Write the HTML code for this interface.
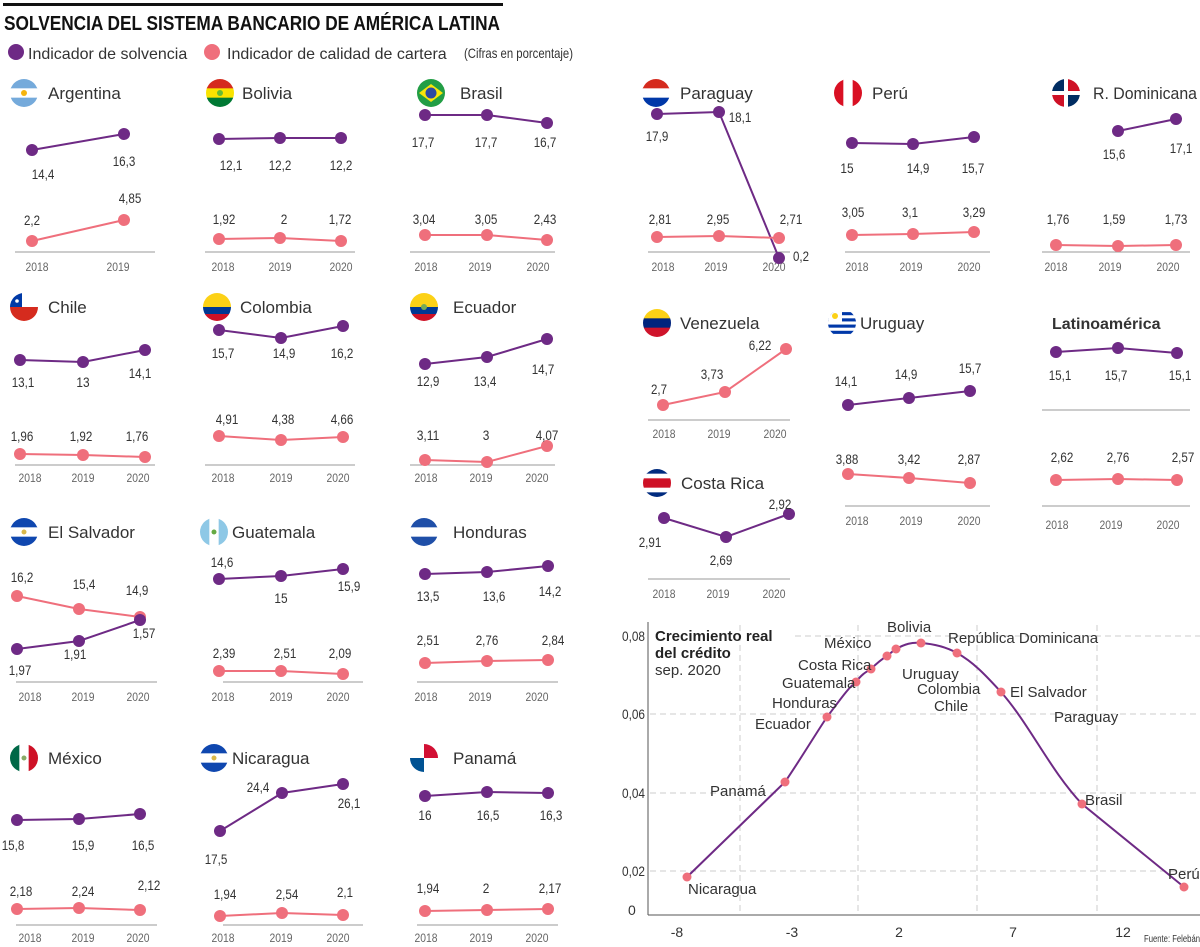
<!DOCTYPE html>
<html><head><meta charset="utf-8"><style>
html,body{margin:0;padding:0;background:#fff}
svg{display:block}
text{font-family:"Liberation Sans Narrow","Liberation Sans",sans-serif;fill:#333}
.v{font-size:14px;text-anchor:middle}
.yr{font-size:12px;text-anchor:middle;fill:#666}
.t{font-size:17px;font-family:"Liberation Sans",sans-serif}
.c{font-size:15px;font-family:"Liberation Sans",sans-serif;fill:#333}
</style></head><body>
<svg id="s" width="1200" height="947" viewBox="0 0 1200 947" xmlns="http://www.w3.org/2000/svg">
<rect x="3" y="3" width="500" height="3" fill="#111"/>
<text x="4" y="30" textLength="496" lengthAdjust="spacingAndGlyphs" style="font-family:'Liberation Sans',sans-serif;font-weight:bold;font-size:20px;fill:#111">SOLVENCIA DEL SISTEMA BANCARIO DE AMÉRICA LATINA</text>
<circle cx="16" cy="52" r="8" fill="#6e2a85"/>
<text x="28" y="59" style="font-family:'Liberation Sans',sans-serif;font-size:16px">Indicador de solvencia</text>
<circle cx="212" cy="52" r="8" fill="#ef6f7c"/>
<text x="227" y="59" style="font-family:'Liberation Sans',sans-serif;font-size:16px">Indicador de calidad de cartera</text>
<text x="464" y="58" textLength="109" lengthAdjust="spacingAndGlyphs" style="font-size:14px">(Cifras en porcentaje)</text>
<g id="g"></g>
</svg>
<script>
var P="#6e2a85",K="#ef6f7c",g=document.getElementById('g'),h='';
function ln(xs,ys,c){var s='<polyline points="'+xs.map(function(x,i){return x+','+ys[i]}).join(' ')+'" fill="none" stroke="'+c+'" stroke-width="2"/>';xs.forEach(function(x,i){s+='<circle cx="'+x+'" cy="'+ys[i]+'" r="6" fill="'+c+'"/>'});return s;}
function tl(t){var d=t.replace(/[^0-9]/g,'').length,c=t.length-d;return d*6.6+c*2.8;}
function lab(a){var s='';a.forEach(function(l){s+='<text class="v" x="'+l[1]+'" y="'+(l[2]+5)+'" textLength="'+tl(l[0])+'" lengthAdjust="spacingAndGlyphs">'+l[0]+'</text>'});return s;}
var id=0;
function flag(cx,cy,kind){id++;var r=14,x=cx-r,y=cy-r,w=28,s='<clipPath id="f'+id+'"><circle cx="'+cx+'" cy="'+cy+'" r="'+r+'"/></clipPath><g clip-path="url(#f'+id+')">';
function hs(cols,ws){var yy=y;ws=ws||cols.map(function(){return 1});var tot=ws.reduce(function(a,b){return a+b});cols.forEach(function(c,i){var hh=w*ws[i]/tot;s+='<rect x="'+x+'" y="'+yy+'" width="'+w+'" height="'+(hh+0.5)+'" fill="'+c+'"/>';yy+=hh;});}
function vs(cols){cols.forEach(function(c,i){s+='<rect x="'+(x+i*w/3)+'" y="'+y+'" width="'+(w/3+0.5)+'" height="'+w+'" fill="'+c+'"/>'});}
switch(kind){
case'ar':hs(['#75aadb','#fff','#75aadb']);s+='<circle cx="'+cx+'" cy="'+cy+'" r="3" fill="#f6b40e"/>';break;
case'bo':hs(['#d52b1e','#f9e300','#007934']);s+='<circle cx="'+cx+'" cy="'+cy+'" r="3" fill="#6b3"/>';break;
case'br':s+='<rect x="'+x+'" y="'+y+'" width="28" height="28" fill="#229e45"/><polygon points="'+(cx-12)+','+cy+' '+cx+','+(cy-9)+' '+(cx+12)+','+cy+' '+cx+','+(cy+9)+'" fill="#f8e509"/><circle cx="'+cx+'" cy="'+cy+'" r="5.5" fill="#2b49a3"/>';break;
case'py':hs(['#d52b1e','#fff','#0038a8']);break;
case'pe':vs(['#d91023','#fff','#d91023']);break;
case'do':s+='<rect x="'+x+'" y="'+y+'" width="28" height="28" fill="#fff"/><rect x="'+x+'" y="'+y+'" width="12" height="12" fill="#002d62"/><rect x="'+(cx+2)+'" y="'+(cy+2)+'" width="12" height="12" fill="#002d62"/><rect x="'+(cx+2)+'" y="'+y+'" width="12" height="12" fill="#ce1126"/><rect x="'+x+'" y="'+(cy+2)+'" width="12" height="12" fill="#ce1126"/>';break;
case'cl':hs(['#fff','#d52b1e']);s+='<rect x="'+x+'" y="'+y+'" width="12" height="14" fill="#0039a6"/><circle cx="'+(x+7)+'" cy="'+(y+8)+'" r="1.8" fill="#fff"/>';break;
case'co':case'ec':hs(['#fcd116','#003893','#ce1126'],[2,1,1]);if(kind=='ec')s+='<circle cx="'+cx+'" cy="'+cy+'" r="3" fill="#7a5"/>';break;
case've':hs(['#fcd116','#00247d','#cf142b']);break;
case'cr':hs(['#002b7f','#fff','#ce1126','#fff','#002b7f'],[1,1,2,1,1]);break;
case'uy':hs(['#fff','#0038a8','#fff','#0038a8','#fff','#0038a8','#fff','#0038a8','#fff']);s+='<rect x="'+x+'" y="'+y+'" width="14" height="14" fill="#fff"/><circle cx="'+(x+7)+'" cy="'+(y+7)+'" r="3" fill="#fcd116"/>';break;
case'sv':case'ni':hs(['#0f47af','#fff','#0f47af']);s+='<circle cx="'+cx+'" cy="'+cy+'" r="2.5" fill="#d9b84a"/>';break;
case'hn':hs(['#1f4fa8','#fff','#1f4fa8']);break;
case'gt':vs(['#8ec8e6','#fff','#8ec8e6']);s+='<circle cx="'+cx+'" cy="'+cy+'" r="2.5" fill="#6a4"/>';break;
case'mx':vs(['#006847','#fff','#ce1126']);s+='<circle cx="'+cx+'" cy="'+cy+'" r="2.5" fill="#8a6"/>';break;
case'pa':s+='<rect x="'+x+'" y="'+y+'" width="28" height="28" fill="#fff"/><rect x="'+cx+'" y="'+y+'" width="14" height="14" fill="#d21034"/><rect x="'+x+'" y="'+cy+'" width="14" height="14" fill="#005293"/>';break;}
return s+'</g>';}
function axis(x0,x1,y){return '<line x1="'+x0+'" x2="'+x1+'" y1="'+y+'" y2="'+y+'" stroke="#999" stroke-width="1"/>';}
function yrs(xs,y,list){var s='';xs.forEach(function(x,i){s+='<text class="yr" x="'+x+'" y="'+y+'" textLength="23" lengthAdjust="spacingAndGlyphs">'+list[i]+'</text>'});return s;}
function title(fx,fy,k,tx,name,len){return flag(fx,fy,k)+'<text class="t" x="'+tx+'" y="'+(fy+6)+'"'+(len?' textLength="'+len+'" lengthAdjust="spacingAndGlyphs"':'')+'>'+name+'</text>';}
var Y3=['2018','2019','2020'];
h+=title(24,93,'ar',48,'Argentina');
h+=axis(15,155,252)+yrs([37,118],271,['2018','2019']);
h+=ln([32,124],[150,134],P)+ln([32,124],[241,220],K);
h+=lab([['14,4',43,174],['16,3',124,161],['2,2',32,220],['4,85',130,198]]);
h+=title(220,93,'bo',242,'Bolivia');
h+=axis(205,355,252)+yrs([223,280,341],271,Y3);
h+=ln([219,280,341],[139,138,138],P)+ln([219,280,341],[239,238,241],K);
h+=lab([['12,1',231,165],['12,2',280,165],['12,2',341,165],['1,92',224,219],['2',284,219],['1,72',340,219]]);
h+=title(431,93,'br',460,'Brasil');
h+=axis(410,555,252)+yrs([426,480,538],271,Y3);
h+=ln([425,487,547],[115,115,123],P)+ln([425,487,547],[235,235,240],K);
h+=lab([['17,7',423,142],['17,7',486,142],['16,7',545,142],['3,04',424,219],['3,05',486,219],['2,43',545,219]]);
h+=title(656,93,'py',680,'Paraguay');
h+=axis(648,790,252)+yrs([663,716,774],271,Y3);
h+=ln([657,719,779],[114,112,258],P);
h+=ln([657,719,779],[237,236,238],K);
h+=lab([['17,9',657,136],['18,1',740,117],['0,2',801,256],['2,81',660,219],['2,95',718,219],['2,71',791,219]]);
h+=title(848,93,'pe',872,'Perú');
h+=axis(845,990,252)+yrs([857,911,969],271,Y3);
h+=ln([852,913,974],[143,144,137],P)+ln([852,913,974],[235,234,232],K);
h+=lab([['15',847,168],['14,9',918,168],['15,7',973,168],['3,05',853,212],['3,1',910,212],['3,29',974,212]]);
h+=title(1066,93,'do',1093,'R. Dominicana',104);
h+=axis(1042,1190,252)+yrs([1056,1110,1168],271,Y3);
h+=ln([1118,1176],[131,119],P)+ln([1056,1118,1176],[245,246,245],K);
h+=lab([['15,6',1114,154],['17,1',1181,148],['1,76',1058,219],['1,59',1114,219],['1,73',1176,219]]);
h+=title(24,307,'cl',48,'Chile');
h+=axis(15,155,465)+yrs([30,83,138],482,Y3);
h+=ln([20,83,145],[360,362,350],P)+ln([20,83,145],[454,455,457],K);
h+=lab([['13,1',23,382],['13',83,382],['14,1',140,373],['1,96',22,436],['1,92',81,436],['1,76',137,436]]);
h+=title(217,307,'co',240,'Colombia');
h+=axis(205,355,465)+yrs([223,281,338],482,Y3);
h+=ln([219,281,343],[330,338,326],P)+ln([219,281,343],[436,440,437],K);
h+=lab([['15,7',223,353],['14,9',284,353],['16,2',342,353],['4,91',227,419],['4,38',283,419],['4,66',342,419]]);
h+=title(424,307,'ec',453,'Ecuador');
h+=axis(410,555,465)+yrs([426,481,537],482,Y3);
h+=ln([425,487,547],[364,357,339],P)+ln([425,487,547],[460,462,446],K);
h+=lab([['12,9',428,381],['13,4',485,381],['14,7',543,369],['3,11',428,435],['3',486,435],['4,07',547,435]]);
h+=title(657,323,'ve',680,'Venezuela');
h+=axis(648,790,420)+yrs([664,719,775],438,Y3);
h+=ln([663,725,786],[405,392,349],K);
h+=lab([['2,7',659,389],['3,73',712,374],['6,22',760,345]]);
h+=title(657,483,'cr',681,'Costa Rica');
h+=axis(648,790,579)+yrs([664,718,774],598,Y3);
h+=ln([664,726,789],[518,537,514],P);
h+=lab([['2,91',650,542],['2,69',721,560],['2,92',780,504]]);
h+=title(842,323,'uy',860,'Uruguay');
h+=axis(845,990,506)+yrs([857,911,969],525,Y3);
h+=ln([848,909,970],[405,398,391],P)+ln([848,909,970],[474,478,483],K);
h+=lab([['14,1',846,381],['14,9',906,374],['15,7',970,368],['3,88',847,459],['3,42',909,459],['2,87',969,459]]);
h+='<text class="t" x="1052" y="329" style="font-weight:bold;font-size:16px">Latinoamérica</text>';
h+=axis(1042,1190,410)+axis(1042,1190,506)+yrs([1057,1111,1168],529,Y3);
h+=ln([1056,1118,1177],[352,348,353],P)+ln([1056,1118,1177],[480,479,480],K);
h+=lab([['15,1',1060,375],['15,7',1116,375],['15,1',1180,375],['2,62',1062,457],['2,76',1118,457],['2,57',1183,457]]);
h+=title(24,532,'sv',48,'El Salvador');
h+=axis(16,157,682)+yrs([30,83,138],701,Y3);
h+=ln([17,79,140],[596,609,617],K)+ln([17,79,140],[649,641,620],P);
h+=lab([['1,97',20,670],['1,91',75,654],['1,57',144,633],['16,2',22,577],['15,4',84,584],['14,9',137,590]]);
h+=title(214,532,'gt',232,'Guatemala');
h+=axis(223,363,682)+yrs([223,281,338],701,Y3);
h+=ln([219,281,343],[579,576,569],P)+ln([219,281,343],[671,671,674],K);
h+=lab([['14,6',222,562],['15',281,598],['15,9',349,586],['2,39',224,653],['2,51',285,653],['2,09',340,653]]);
h+=title(424,532,'hn',453,'Honduras');
h+=axis(417,558,682)+yrs([426,480,537],701,Y3);
h+=ln([425,487,548],[574,572,566],P)+ln([425,487,548],[663,661,660],K);
h+=lab([['13,5',428,596],['13,6',494,596],['14,2',550,591],['2,51',428,640],['2,76',487,640],['2,84',553,640]]);
h+=title(24,758,'mx',48,'México');
h+=axis(16,157,925)+yrs([30,83,138],942,Y3);
h+=ln([17,79,140],[820,819,814],P)+ln([17,79,140],[909,908,910],K);
h+=lab([['15,8',13,845],['15,9',83,845],['16,5',143,845],['2,18',21,891],['2,24',83,891],['2,12',149,885]]);
h+=title(214,758,'ni',232,'Nicaragua');
h+=axis(223,363,925)+yrs([223,281,338],942,Y3);
h+=ln([220,282,343],[831,793,784],P)+ln([220,282,343],[916,913,915],K);
h+=lab([['17,5',216,859],['24,4',258,787],['26,1',349,803],['1,94',225,894],['2,54',287,894],['2,1',345,892]]);
h+=title(424,758,'pa',453,'Panamá');
h+=axis(417,558,925)+yrs([426,481,537],942,Y3);
h+=ln([425,487,548],[796,792,793],P)+ln([425,487,548],[911,910,909],K);
h+=lab([['16',425,815],['16,5',488,815],['16,3',551,815],['1,94',428,888],['2',486,888],['2,17',550,888]]);
var s='';
[740,858,977,1097].forEach(function(x){s+='<line x1="'+x+'" x2="'+x+'" y1="625" y2="914" stroke="#ccc" stroke-dasharray="6,4"/>'});
[[636,795],[714,650],[793,650],[871,650]].forEach(function(a){s+='<line x1="'+a[1]+'" x2="1200" y1="'+a[0]+'" y2="'+a[0]+'" stroke="#ccc" stroke-dasharray="6,4"/>'});
s+='<line x1="648" x2="648" y1="622" y2="915" stroke="#555"/><line x1="648" x2="1200" y1="915" y2="915" stroke="#555"/>';
[['0,08',636],['0,06',714],['0,04',793],['0,02',871],['0',910]].forEach(function(a){s+='<text x="'+(a[0]=='0'?628:622)+'" y="'+(a[1]+5)+'" style="font-size:14px"'+(a[0]=='0'?'':' textLength="23" lengthAdjust="spacingAndGlyphs"')+'>'+a[0]+'</text>'});
[['-8',677],['-3',792],['2',899],['7',1013],['12',1123]].forEach(function(a){s+='<text class="v" x="'+a[1]+'" y="937">'+a[0]+'</text>'});
s+='<text x="1144" y="942" textLength="56" lengthAdjust="spacingAndGlyphs" style="font-size:10px">Fuente: Felebán</text>';
s+='<path d="M687,877 L785,782 C800,760 815,735 827,717 C840,700 848,688 856,682 C862,674 866,672 871,669 C878,662 882,659 887,656 C892,652 894,650 896,649 C905,644 912,642 921,643 C935,644 948,648 957,653 C975,663 988,678 1001,692 C1030,725 1050,770 1082,804 L1184,887" fill="none" stroke="'+P+'" stroke-width="2"/>';
[[687,877],[785,782],[827,717],[856,682],[871,669],[887,656],[896,649],[921,643],[957,653],[1001,692],[1082,804],[1184,887]].forEach(function(p){s+='<circle cx="'+p[0]+'" cy="'+p[1]+'" r="4.5" fill="'+K+'"/>'});
[['Nicaragua',688,889],['Panamá',710,791],['Ecuador',755,724],['Honduras',772,703],['Guatemala',782,683],['Costa Rica',798,665],['México',824,643],['Bolivia',887,627],['República Dominicana',948,638],['Uruguay',902,674],['Colombia',917,689],['Chile',934,706],['El Salvador',1010,692],['Paraguay',1054,717],['Brasil',1085,800],['Perú',1168,874]].forEach(function(a){s+='<text class="c" x="'+a[1]+'" y="'+(a[2]+5)+'">'+a[0]+'</text>'});
s+='<text x="655" y="641" style="font-family:Liberation Sans,sans-serif;font-weight:bold;font-size:15px;fill:#222">Crecimiento real</text>';
s+='<text x="655" y="658" style="font-family:Liberation Sans,sans-serif;font-weight:bold;font-size:15px;fill:#222">del crédito</text>';
s+='<text x="655" y="675" style="font-family:Liberation Sans,sans-serif;font-size:15px">sep. 2020</text>';
h+=s;
g.innerHTML=h;
</script>
</body></html>
